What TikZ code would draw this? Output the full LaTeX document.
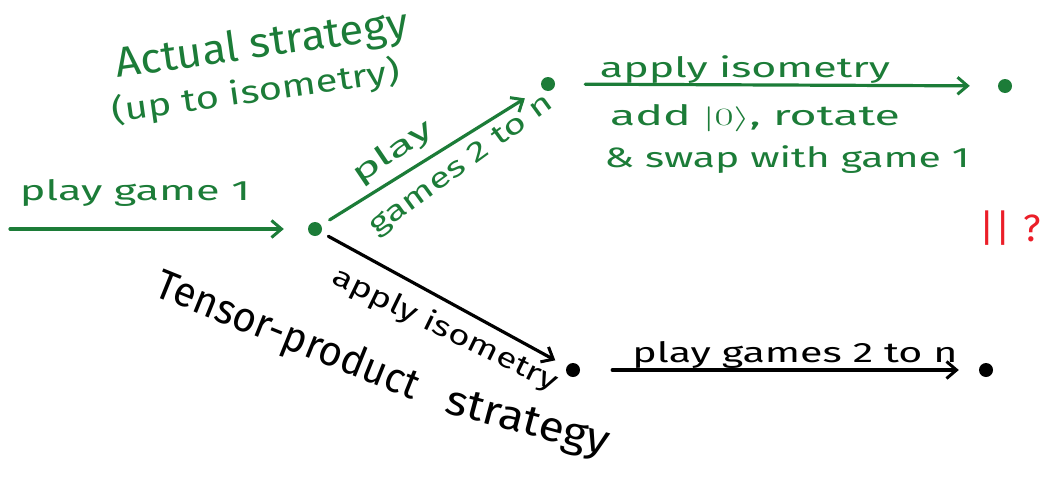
\documentclass[tikz,border=0pt]{standalone}
\usepackage{fontspec}
\setmainfont{Fira Sans}
\usepackage{graphicx}
\usetikzlibrary{arrows.meta}
\definecolor{ink}{RGB}{28,124,56}
\definecolor{redink}{RGB}{235,30,40}
% stretch text horizontally to a given width, keeping its height
\newcommand\hw[2]{\resizebox{#1}{\height}{#2}}
\newcommand\fs[1]{\fontsize{#1}{#1}\selectfont}
\tikzset{
  dot/.style={circle, fill=#1, inner sep=0pt, minimum size=14pt},
  arr/.style={line width=3.2pt, draw=#1, line cap=round,
    -{Straight Barb[length=10pt, width=17pt, line width=3pt]}},
  lbl/.style={inner sep=0pt, text=#1},
}
\begin{document}
\begin{tikzpicture}[x=1pt, y=-1pt]
\useasboundingbox (0,0) rectangle (1041,477);

% states
\node[dot=ink]   (A) at (315,229) {};
\node[dot=ink]   (B) at (548,84)  {};
\node[dot=ink]   (C) at (1005,86) {};
\node[dot=black] (D) at (573,370) {};
\node[dot=black] (E) at (986,370) {};
\coordinate (S) at (10,229);

% actual strategy
\draw[arr=ink, shorten >=24pt] (S) -- (A);
\draw[arr=ink, shorten <=10pt, shorten >=20pt] (A) -- (B);
\draw[arr=ink, shorten <=30pt, shorten >=28pt] (B) -- (C);

% tensor-product strategy
\draw[arr=black, shorten <=8pt, shorten >=13pt] (A) -- (D);
\draw[arr=black, shorten <=32pt, shorten >=20pt] (D) -- (E);

% headings
\node[lbl=ink, rotate=8] (t1) at (262,46) {\fs{42}\hw{295pt}{Actual strategy}};
\node[lbl=ink, rotate=8] (t2) at (256,92) {\fs{32}\hw{290pt}{(up to isometry)}};
\node[lbl=black, rotate=-22] (t3) at (287,337) {\fs{42}\hw{280pt}{Tensor-product}};
\node[lbl=black, rotate=-15] (t4) at (527,425) {\fs{42}\hw{168pt}{strategy}};

% edge labels
\node[lbl=ink] (l1) at (135,193) {\fs{28}\hw{230pt}{play game 1}};
\node[lbl=ink, rotate=34] (l2) at (393,153) {\fs{28}\hw{92pt}{play}};
\node[lbl=ink, rotate=36] (l3) at (462,166) {\fs{28}\hw{220pt}{games 2 to n}};
\node[lbl=ink] (l4) at (745,70) {\fs{28}\hw{290pt}{apply isometry}};
\node[lbl=ink] (l5) at (755,118) {\fs{28}\hw{290pt}{add $|0\rangle$, rotate}};
\node[lbl=ink] (l6) at (787,160) {\fs{28}\hw{365pt}{\& swap with game 1}};
\node[lbl=black, rotate=-26] (l7) at (445,330) {\fs{28}\hw{248pt}{apply isometry}};
\node[lbl=black] (l8) at (795,355) {\fs{28}\hw{325pt}{play games 2 to n}};

% open question
\node[lbl=redink] (q) at (1010,228) {\fs{38}|\kern1pt|\kern12pt?};
\end{tikzpicture}
\end{document}
